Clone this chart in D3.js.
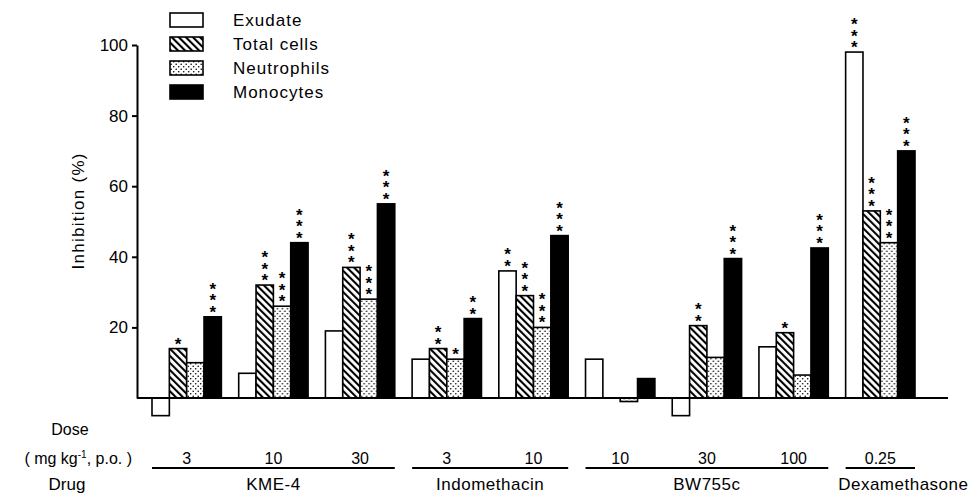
<!DOCTYPE html>
<html>
<head>
<meta charset="utf-8">
<script src="https://cdn.jsdelivr.net/npm/d3@7"></script>
<style>
  html, body { margin: 0; padding: 0; background: #fff; }
  svg { display: block; }
  text { font-family: "Liberation Sans", Arial, sans-serif; fill: #000; }
</style>
</head>
<body>
<script>
// values (% inhibition)
var drugs = ['KME-4', 'KME-4', 'KME-4', 'Indomethacin', 'Indomethacin', 'BW755c', 'BW755c', 'BW755c', 'Dexamethasone'];
var doses = ['3', '10', '30', '3', '10', '10', '30', '100', '0.25'];
var seriesNames = ['Exudate', 'Total cells', 'Neutrophils', 'Monocytes'];

var exudate = [-5, 7, 19, 11, 36, 11, -5, 14.5, 98];
var totalCells = [14, 32, 37, 14, 29, 0, 20.5, 18.5, 53];
var neutrophils = [10, 26, 28, 11, 20, -1, 11.5, 6.5, 44];
var monocytes = [23, 44, 55, 22.5, 46, 5.5, 39.5, 42.5, 70];

// number of asterisks over each bar
var exudateSig = [0, 0, 0, 0, 2, 0, 0, 0, 3];
var totalCellsSig = [1, 3, 3, 2, 3, 0, 2, 1, 3];
var neutrophilsSig = [0, 3, 3, 1, 3, 0, 0, 0, 3];
var monocytesSig = [3, 3, 3, 2, 3, 0, 3, 3, 3];

var yTicks = [20, 40, 60, 80, 100];

var width = 977, height = 499;
var values = [exudate, totalCells, neutrophils, monocytes];
var sigs = [exudateSig, totalCellsSig, neutrophilsSig, monocytesSig];
var fills = ['#fff', 'url(#hatch)', 'url(#dots)', '#000'];

var svg = d3.select('body').append('svg')
	.attr('width', width)
	.attr('height', height);

// patterns
var defs = svg.append('defs');
var hatch = defs.append('pattern').attr('id', 'hatch')
	.attr('patternUnits', 'userSpaceOnUse')
	.attr('width', 5).attr('height', 5)
	.attr('patternTransform', 'rotate(-45)');
hatch.append('rect').attr('width', 5).attr('height', 5).attr('fill', '#fff');
hatch.append('line').attr('x1', 1).attr('y1', 0).attr('x2', 1).attr('y2', 5)
	.attr('stroke', '#000').attr('stroke-width', 2.2);

var dots = defs.append('pattern').attr('id', 'dots')
	.attr('patternUnits', 'userSpaceOnUse')
	.attr('width', 5).attr('height', 5);
dots.append('rect').attr('width', 5).attr('height', 5).attr('fill', '#fff');
dots.append('circle').attr('cx', 1.2).attr('cy', 1.2).attr('r', 0.8).attr('fill', '#000');
dots.append('circle').attr('cx', 3.7).attr('cy', 3.7).attr('r', 0.8).attr('fill', '#000');

// scales
var keys = doses.map(function (d, i) { return i; });
var x = d3.scaleBand().domain(keys).range([152, 915]).paddingInner(0.2).paddingOuter(0);
var xs = d3.scaleBand().domain(d3.range(seriesNames.length)).range([0, x.bandwidth()]);
var y = d3.scaleLinear().domain([0, 100]).range([398, 45]);

// y axis
var yAxis = svg.append('g')
	.attr('transform', 'translate(137,0)')
	.call(d3.axisLeft(y).tickValues(yTicks).tickSize(5).tickSizeOuter(0).tickPadding(4));
yAxis.select('.domain').attr('stroke-width', 2);
yAxis.selectAll('.tick line').attr('stroke-width', 2);
yAxis.selectAll('.tick text').attr('font-size', 17).attr('font-family', '"Liberation Sans", Arial, sans-serif');

svg.append('text')
	.attr('transform', 'translate(84,' + y(53) + ') rotate(-90)')
	.attr('text-anchor', 'middle')
	.attr('font-size', 17)
	.attr('letter-spacing', 1.3)
	.text('Inhibition (%)');

// bars
var groups = svg.selectAll('.group').data(keys).enter().append('g')
	.attr('class', 'group')
	.attr('transform', function (d) { return 'translate(' + x(d) + ',0)'; });

seriesNames.forEach(function (name, s) {
	groups.append('rect')
		.attr('x', xs(s))
		.attr('width', xs.bandwidth())
		.attr('y', function (d) { return y(Math.max(0, values[s][d])); })
		.attr('height', function (d) { return Math.abs(y(values[s][d]) - y(0)); })
		.attr('fill', fills[s])
		.attr('stroke', '#000')
		.attr('stroke-width', 1.6);

	// significance asterisks, stacked upward
	groups.each(function (d) {
		var n = sigs[s][d];
		var cx = xs(s) + xs.bandwidth() / 2;
		for (var k = 0; k < n; k++) {
			d3.select(this).append('text')
				.attr('x', cx)
				.attr('y', y(Math.max(0, values[s][d])) + 1 - k * 11.5)
				.attr('text-anchor', 'middle')
				.attr('font-size', 17)
				.attr('font-weight', 'bold')
				.text('*');
		}
	});
});

// baseline
svg.append('line')
	.attr('x1', 137).attr('x2', 948)
	.attr('y1', y(0)).attr('y2', y(0))
	.attr('stroke', '#000').attr('stroke-width', 2);

// legend
var legend = svg.append('g').selectAll('g').data(seriesNames).enter().append('g')
	.attr('transform', function (d, i) { return 'translate(170,' + (20 + i * 24) + ')'; });
legend.append('rect')
	.attr('x', 0).attr('y', -7).attr('width', 33).attr('height', 14)
	.attr('fill', function (d, i) { return fills[i]; })
	.attr('stroke', '#000').attr('stroke-width', 1.6);
legend.append('text')
	.attr('x', 63).attr('y', 6)
	.attr('font-size', 17)
	.attr('letter-spacing', 1)
	.text(function (d) { return d; });

// dose row
svg.append('text').attr('x', 70).attr('y', 435).attr('text-anchor', 'middle')
	.attr('font-size', 16).text('Dose');
var unit = svg.append('text').attr('x', 132).attr('y', 464).attr('text-anchor', 'end')
	.attr('font-size', 16);
unit.append('tspan').text('( mg kg');
unit.append('tspan').attr('font-size', 10).attr('dy', -6).text('-1');
unit.append('tspan').attr('dy', 6).text(', p.o. )');

svg.selectAll('.dose').data(keys).enter().append('text')
	.attr('class', 'dose')
	.attr('x', function (d) { return x(d) + x.bandwidth() / 2; })
	.attr('y', 464)
	.attr('text-anchor', 'middle')
	.attr('font-size', 16)
	.text(function (d) { return doses[d]; });

// drug rows
var drugNames = Array.from(new Set(drugs));
var drugSpans = drugNames.map(function (name) {
	var idx = keys.filter(function (k) { return drugs[k] === name; });
	return { name: name, x0: x(idx[0]), x1: x(idx[idx.length - 1]) + x.bandwidth() };
});

svg.selectAll('.drugline').data(drugSpans).enter().append('line')
	.attr('x1', function (d) { return d.x0; })
	.attr('x2', function (d) { return d.x1; })
	.attr('y1', 468).attr('y2', 468)
	.attr('stroke', '#000').attr('stroke-width', 2);

svg.selectAll('.drug').data(drugSpans).enter().append('text')
	.attr('x', function (d) {
		var c = (d.x0 + d.x1) / 2;
		return d.name === 'Dexamethasone' ? c + 23 : c;
	})
	.attr('y', 490)
	.attr('text-anchor', 'middle')
	.attr('font-size', 17)
	.attr('letter-spacing', 0.5)
	.text(function (d) { return d.name; });

svg.append('text').attr('x', 67).attr('y', 490).attr('text-anchor', 'middle')
	.attr('font-size', 17).text('Drug');
</script>
</body>
</html>
